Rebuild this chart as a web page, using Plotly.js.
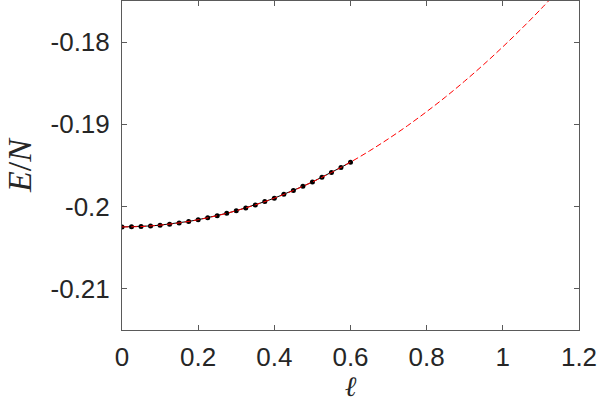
<!DOCTYPE html>
<html>
<head>
<meta charset="utf-8">
<script src="https://cdn.plot.ly/plotly-3.0.1.min.js"></script>
<style>html,body{margin:0;padding:0;background:#fff;}#plot{width:599px;height:403px;}</style>
</head>
<body>
<div id="plot"></div>
<script>
var ell = [0, 0.025, 0.05, 0.075, 0.1, 0.125, 0.15, 0.175, 0.2, 0.225, 0.25, 0.275, 0.3,
           0.325, 0.35, 0.375, 0.4, 0.425, 0.45, 0.475, 0.5, 0.525, 0.55, 0.575, 0.6];
var energy = [-0.20247, -0.20246, -0.20242, -0.20235, -0.20225, -0.20213, -0.20198, -0.20180,
              -0.20159, -0.20136, -0.20110, -0.20081, -0.20050, -0.20016, -0.19979, -0.19939,
              -0.19897, -0.19851, -0.19804, -0.19753, -0.19700, -0.19643, -0.19585, -0.19523, -0.19459];
var fitEll = [0, 0.05, 0.1, 0.15, 0.2, 0.25, 0.3, 0.35, 0.4, 0.45, 0.5, 0.55, 0.6,
              0.65, 0.7, 0.75, 0.8, 0.85, 0.9, 0.95, 1.0, 1.05, 1.1, 1.15];
var fitEnergy = [-0.20247, -0.20242, -0.20225, -0.20198, -0.20159, -0.20110, -0.20050, -0.19979,
                 -0.19897, -0.19804, -0.19700, -0.19585, -0.19459, -0.19322, -0.19174, -0.19015,
                 -0.18845, -0.18665, -0.18473, -0.18271, -0.18057, -0.17833, -0.17597, -0.17351];
var xTicks = [0, 0.2, 0.4, 0.6, 0.8, 1, 1.2];
var xTickText = ['0', '0.2', '0.4', '0.6', '0.8', '1', '1.2'];
var yTicks = [-0.21, -0.2, -0.19, -0.18];
var yTickText = ['-0.21', '-0.2', '-0.19', '-0.18'];

var traces = [
  {x: ell, y: energy, mode: 'lines+markers', type: 'scatter',
   line: {color: '#000000', width: 1}, marker: {color: '#000000', size: 5}},
  {x: fitEll, y: fitEnergy, mode: 'lines', type: 'scatter',
   line: {color: '#ff0000', width: 1, dash: '6px,3px', shape: 'spline'}}
];
var axisCommon = {
  showgrid: false, zeroline: false, showline: true, mirror: 'ticks',
  linecolor: '#5a5a5a', linewidth: 1, ticks: 'inside', ticklen: 5, tickcolor: '#5a5a5a',
  tickfont: {family: 'Liberation Sans, Arial, sans-serif', size: 26, color: '#262626'}
};
var layout = {
  width: 599, height: 403,
  margin: {l: 122, r: 20, t: 1, b: 73},
  paper_bgcolor: '#ffffff', plot_bgcolor: '#ffffff',
  showlegend: false,
  xaxis: Object.assign({}, axisCommon, {
    range: [0, 1.2], tickvals: xTicks, ticktext: xTickText, ticklabelstandoff: 4,
    title: {text: '<i>ℓ</i>', standoff: 9, font: {family: 'DejaVu Serif, serif', size: 28, color: '#262626'}}
  }),
  yaxis: Object.assign({}, axisCommon, {
    range: [-0.215, -0.175], tickvals: yTicks, ticktext: yTickText, ticklabelstandoff: 6,
    title: {text: '<i>E</i>/<i>N</i>', standoff: 8, font: {family: 'Liberation Serif, serif', size: 34, color: '#262626'}}
  })
};
Plotly.newPlot('plot', traces, layout, {displayModeBar: false, staticPlot: true});
</script>
</body>
</html>
